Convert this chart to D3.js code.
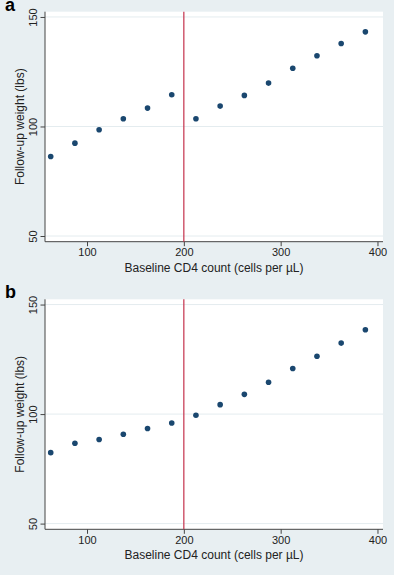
<!DOCTYPE html>
<html>
<head>
<meta charset="utf-8">
<script src="https://cdn.jsdelivr.net/npm/d3@7"></script>
<style>
  body { margin: 0; background: #e8eff2; }
  svg { display: block; font-family: "Liberation Sans", Arial, sans-serif; }
</style>
</head>
<body>
<svg width="394" height="575"></svg>
<script>
// baseline CD4 bins (midpoints) and mean follow-up weight
var cd4Bins = [62.5, 87.5, 112.5, 137.5, 162.5, 187.5, 212.5, 237.5, 262.5, 287.5, 312.5, 337.5, 362.5, 387.5];
var weightA = [86.3, 92.4, 98.5, 103.5, 108.4, 114.5, 103.5, 109.3, 114.2, 119.8, 126.6, 132.3, 137.9, 143.2];
var weightB = [82.4, 86.7, 88.4, 90.8, 93.4, 95.9, 99.5, 104.3, 109.0, 114.5, 120.8, 126.4, 132.4, 138.5];
var panelLabels = ["a", "b"];
var xTicks = [100, 200, 300, 400];
var yTicks = [50, 100, 150];
var cutoff = 200;
var xTitle = "Baseline CD4 count (cells per \u00b5L)";
var yTitle = "Follow-up weight (lbs)";

var svg = d3.select("svg");

// plot region inside one panel ("top" is taken by window, so pTop)
var pLeft = 45, pRight = 383, pTop = 11.7, pBottom = 241.7, panelH = 287.6;

var x = d3.scaleLinear().domain([56.6, 405.7]).range([pLeft, pRight]);
var y = d3.scaleLinear().domain([47.4, 152.4]).range([pBottom, pTop]);

function drawPanel(values, label, i) {
    var g = svg.append("g").attr("transform", "translate(0," + (i * panelH) + ")");

    // white plot region
    g.append("rect")
        .attr("x", pLeft).attr("y", pTop)
        .attr("width", pRight - pLeft).attr("height", pBottom - pTop)
        .attr("fill", "#ffffff");

    // gridlines
    g.append("g").selectAll("line")
        .data(yTicks)
        .enter().append("line")
        .attr("x1", pLeft).attr("x2", pRight)
        .attr("y1", d => y(d)).attr("y2", d => y(d))
        .attr("stroke", "#e4ecef")
        .attr("stroke-width", 1);

    // y axis
    var yAxis = g.append("g")
        .attr("transform", "translate(" + pLeft + ",0)")
        .call(d3.axisLeft(y).tickValues(yTicks).tickSize(4.5).tickPadding(3));
    yAxis.select(".domain").attr("d", "M0," + pTop + "V" + pBottom).attr("stroke", "#444");
    yAxis.selectAll(".tick line").attr("stroke", "#444");
    yAxis.selectAll(".tick text")
        .attr("transform", "rotate(-90)")
        .attr("x", 0).attr("y", -8.5)
        .attr("dy", 0)
        .attr("text-anchor", "middle")
        .attr("font-size", 11)
        .attr("fill", "#222");

    // x axis
    var xAxis = g.append("g")
        .attr("transform", "translate(0," + pBottom + ")")
        .call(d3.axisBottom(x).tickValues(xTicks).tickSize(4.5).tickPadding(3));
    xAxis.select(".domain").attr("d", "M" + pLeft + ",0H" + pRight).attr("stroke", "#444");
    xAxis.selectAll(".tick line").attr("stroke", "#444");
    xAxis.selectAll(".tick text")
        .attr("y", 14.5).attr("dy", 0)
        .attr("font-size", 11)
        .attr("fill", "#222");

    // cutoff line
    g.append("line")
        .attr("x1", x(cutoff)).attr("x2", x(cutoff))
        .attr("y1", pTop).attr("y2", pBottom)
        .attr("stroke", "#c4314b")
        .attr("stroke-width", 1.2);

    // points
    g.append("g").selectAll("circle")
        .data(cd4Bins)
        .enter().append("circle")
        .attr("cx", d => x(d))
        .attr("cy", (d, j) => y(values[j]))
        .attr("r", 2.8)
        .attr("fill", "#1a476f");

    // titles
    g.append("text")
        .attr("x", (pLeft + pRight) / 2).attr("y", 271.5)
        .attr("text-anchor", "middle")
        .attr("font-size", 12)
        .attr("fill", "#222")
        .text(xTitle);

    g.append("text")
        .attr("transform", "translate(24," + ((pTop + pBottom) / 2) + ") rotate(-90)")
        .attr("text-anchor", "middle")
        .attr("font-size", 12)
        .attr("fill", "#222")
        .text(yTitle);

    g.append("text")
        .attr("x", 5).attr("y", 10.5)
        .attr("font-size", 18)
        .attr("font-weight", "bold")
        .attr("fill", "#000")
        .text(label);
}

drawPanel(weightA, panelLabels[0], 0);
drawPanel(weightB, panelLabels[1], 1);
</script>
</body>
</html>
